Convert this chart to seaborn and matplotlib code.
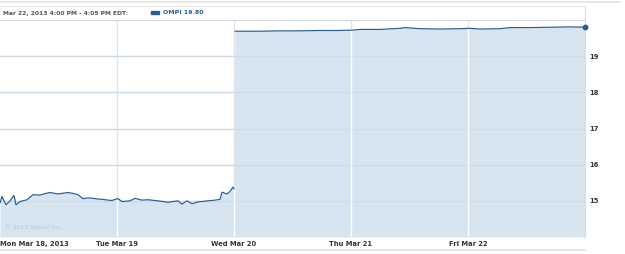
import numpy as np
import pandas as pd
import matplotlib
matplotlib.use("Agg")
import matplotlib.pyplot as plt
import seaborn as sns
from matplotlib.lines import Line2D
from matplotlib.patches import Rectangle

# ---- data (time in trading-day units, 0 = Mon Mar 18 open) ----
t_early = [0, 2, 6, 10, 14, 16, 20, 27, 33, 40, 45, 50, 58, 63, 68, 74, 78, 83, 88, 93,
           98, 103, 108, 112, 115, 118, 122, 130, 135, 142, 148, 158, 168, 178, 182, 187,
           192, 198, 208, 215, 220, 222, 227, 230, 233, 234]
p_early = [14.94, 15.12, 14.89, 15.00, 15.15, 14.89, 14.98, 15.03, 15.17, 15.16, 15.20,
           15.23, 15.19, 15.21, 15.23, 15.20, 15.17, 15.06, 15.08, 15.07, 15.05, 15.04,
           15.02, 15.01, 15.04, 15.06, 14.98, 15.00, 15.07, 15.02, 15.03, 15.00, 14.96,
           15.00, 14.91, 15.00, 14.92, 14.97, 15.00, 15.02, 15.04, 15.24, 15.19, 15.26,
           15.38, 15.33]
t_late = [235, 260, 280, 300, 320, 340, 352, 360, 380, 400, 405, 420, 440, 460, 470, 480,
          500, 510, 530, 550, 570, 585]
p_late = [19.69, 19.69, 19.70, 19.70, 19.71, 19.71, 19.72, 19.74, 19.74, 19.77, 19.79,
          19.76, 19.75, 19.76, 19.77, 19.75, 19.76, 19.79, 19.79, 19.80, 19.81, 19.80]
day_px = 117.0
day_ticks = [0, 1, 2, 3, 4]
day_labels = ["Mon Mar 18, 2013", "Tue Mar 19", "Wed Mar 20", "Thu Mar 21", "Fri Mar 22"]
y_ticks = [15, 16, 17, 18, 19]
header = "Mar 22, 2013 4:00 PM - 4:05 PM EDT:"
legend_label = "OMPI 19.80"

df = pd.DataFrame({
    "t": [v / day_px for v in t_early + t_late],
    "price": p_early + p_late,
    "seg": ["a"] * len(t_early) + ["b"] * len(t_late),
})

LINE = "#275c94"
FILL = "#d6e5f0"
GRID = "#cddbe6"
TXT = "#333333"

sns.set_theme(style="white")
plt.rcParams["font.family"] = ["DejaVu Sans"]

fig = plt.figure(figsize=(6.25, 2.54), dpi=100)
ax = fig.add_axes([0.0, 17 / 254, 585 / 625, 217 / 254])

ax.set_xlim(0, 5)
ax.set_ylim(14, 20)

for y in y_ticks:
    ax.axhline(y, color=GRID, lw=0.9, zorder=0)
for d in day_ticks[1:]:
    ax.axvline(d, color="#dde3e8", lw=0.9, zorder=0)

ax.fill_between(df["t"], 14, df["price"], color=FILL, lw=0, zorder=1)
for y in y_ticks:
    ax.axhline(y, color=GRID, lw=0.9, zorder=1.5)
for d in day_ticks[1:]:
    top = np.interp(d, df["t"], df["price"])
    ax.vlines(d, 14, top, color="white", lw=1.0, zorder=2)

sns.lineplot(data=df, x="t", y="price", units="seg", estimator=None,
             color=LINE, lw=0.85, ax=ax, zorder=3)
ax.plot(df["t"].iloc[-1], df["price"].iloc[-1], "o", color=LINE, ms=3.2,
        zorder=4, clip_on=False)

ax.set_xlabel("")
ax.set_ylabel("")
ax.set_xticks([d for d in day_ticks])
ax.set_xticklabels(day_labels, fontsize=4.9, fontweight="bold", color=TXT)
ax.get_xticklabels()[0].set_horizontalalignment("left")
ax.yaxis.tick_right()
ax.set_yticks(y_ticks)
ax.set_yticklabels([str(v) for v in y_ticks], fontsize=4.9, fontweight="bold", color=TXT)
ax.tick_params(axis="x", length=0, pad=3)
ax.tick_params(axis="y", length=0, pad=3)

for s in ["left", "bottom"]:
    ax.spines[s].set_visible(False)
ax.spines["right"].set_color("#d8dde2")
ax.spines["top"].set_color("#d0d6dc")
ax.spines["right"].set_linewidth(0.8)
ax.spines["top"].set_linewidth(0.8)

ax.text(0.008, 0.035, "\u00a9 2013 Yahoo! Inc.", transform=ax.transAxes,
        fontsize=4.3, color="#b3c5d4")

# header
fig.text(3 / 625, 1 - 13 / 254, header, fontsize=4.3, fontweight="bold",
         color="#555555", va="center", ha="left")
fig.patches.append(Rectangle((151 / 625, 1 - 14 / 254), 8 / 625, 3 / 254,
                             transform=fig.transFigure, color=LINE, figure=fig))
fig.text(163 / 625, 1 - 13 / 254, legend_label, fontsize=4.5, fontweight="bold",
         color=LINE, va="center", ha="left")
fig.lines.append(Line2D([0, 620 / 625], [1 - 2 / 254, 1 - 2 / 254],
                        transform=fig.transFigure, color="#e2e2e2", lw=1.2))
fig.lines.append(Line2D([0, 585 / 625], [1 - 6 / 254, 1 - 6 / 254],
                        transform=fig.transFigure, color="#e6e6e6", lw=0.8))
fig.lines.append(Line2D([585 / 625, 585 / 625], [1 - 6 / 254, 1 - 20 / 254],
                        transform=fig.transFigure, color="#e0e0e0", lw=0.8))
fig.lines.append(Line2D([0, 585 / 625], [1 - 250 / 254, 1 - 250 / 254],
                        transform=fig.transFigure, color="#e2e2e2", lw=1.2))

fig.savefig("out.png", dpi=100)
